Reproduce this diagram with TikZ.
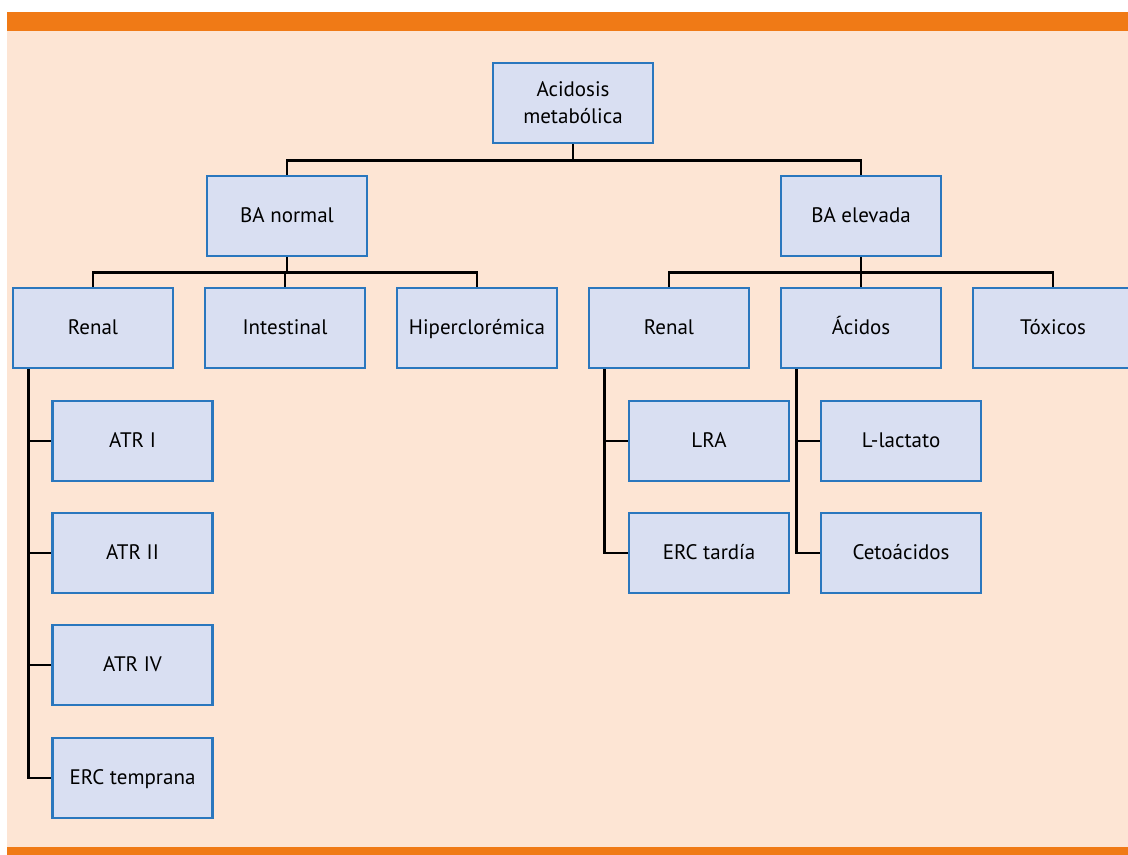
\documentclass[tikz,border=0pt]{standalone}
\usepackage{fontspec}
\setmainfont{PT Sans}
\usepackage{tikz}
\usetikzlibrary{positioning}
\definecolor{bandorange}{HTML}{F07A16}
\definecolor{peach}{HTML}{FDE5D4}
\definecolor{boxfill}{HTML}{D9DFF2}
\definecolor{boxline}{HTML}{2A77BE}
\tikzset{caja/.style={draw=boxline,fill=boxfill,line width=1.4pt,
		minimum width=80pt,minimum height=40pt,align=center,inner sep=2pt,
		text height=1.6ex,text depth=.3ex,
		font=\fontsize{10.5}{13.5}\selectfont},
	raiz/.style={caja,text height=,text depth=},
	rama/.style={draw=black,line width=1.3pt}}
\begin{document}
\begin{tikzpicture}[x=0.5pt,y=-0.5pt]
		\useasboundingbox (0,0) rectangle (1128,855);
		\fill[peach] (7,31) rectangle (1128,847);
		\fill[bandorange] (7,12) rectangle (1128,31);
		\fill[bandorange] (7,847) rectangle (1128,855);
		\begin{scope}[every node/.style={caja}]
			\node[raiz] (AM) at (573,103) {Acidosis\\metabólica};
			\node (BAn) at (287,216) {BA normal};
			\node (BAe) at (861,216) {BA elevada};
			\node (RnA) at (93,328) {Renal};
			\node (In) at (285,328) {Intestinal};
			\node (Hc) at (477,328) {Hiperclorémica};
			\node (RnB) at (669,328) {Renal};
			\node (Ac) at (861,328) {Ácidos};
			\node (Tx) at (1053,328) {Tóxicos};
			\node (A1) at (132.5,441) {ATR I};
			\node (A2) at (132.5,553) {ATR II};
			\node (A4) at (132.5,665) {ATR IV};
			\node (ET) at (132.5,778) {ERC temprana};
			\node (LR) at (709,441) {LRA};
			\node (ED) at (709,553) {ERC tardía};
			\node (LL) at (901,441) {L-lactato};
			\node (CA) at (901,553) {Cetoácidos};
		\end{scope}
		\begin{scope}[every path/.style={rama}]
			\draw (AM.south) -- ++(0,16) -| (BAn.north);
			\draw (AM.south) -- ++(0,16) -| (BAe.north);
			\draw (BAn.south) -- ++(0,15) -| (RnA.north);
			\draw (BAn.south) -- ++(0,15) -| (In.north);
			\draw (BAn.south) -- ++(0,15) -| (Hc.north);
			\draw (BAe.south) -- ++(0,15) -| (RnB.north);
			\draw (BAe.south) -- ++(0,15) -| (Ac.north);
			\draw (BAe.south) -- ++(0,15) -| (Tx.north);
			\draw ([xshift=8.5pt]RnA.south west) |- (A1.west);
			\draw ([xshift=8.5pt]RnA.south west) |- (A2.west);
			\draw ([xshift=8.5pt]RnA.south west) |- (A4.west);
			\draw ([xshift=8.5pt]RnA.south west) |- (ET.west);
			\draw ([xshift=8.5pt]RnB.south west) |- (LR.west);
			\draw ([xshift=8.5pt]RnB.south west) |- (ED.west);
			\draw ([xshift=8.5pt]Ac.south west) |- (LL.west);
			\draw ([xshift=8.5pt]Ac.south west) |- (CA.west);
		\end{scope}
	\end{tikzpicture}
\end{document}
